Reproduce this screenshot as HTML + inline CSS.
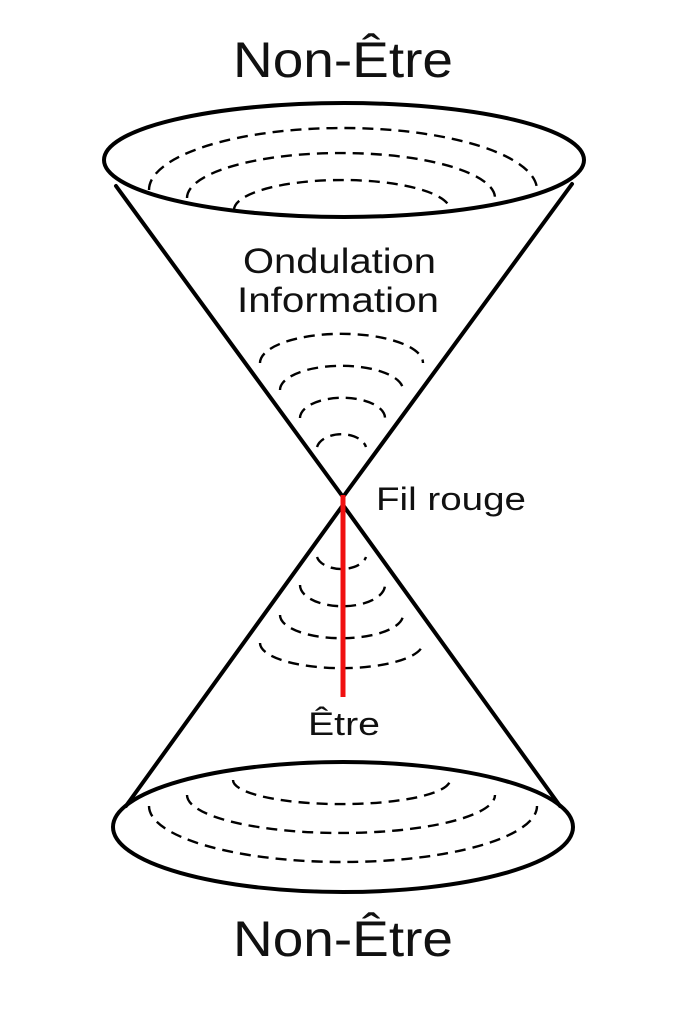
<!DOCTYPE html>
<html><head><meta charset="utf-8"><style>
html,body{margin:0;padding:0;background:#fff;}
svg{display:block;}
text{font-family:"Liberation Sans","DejaVu Sans",sans-serif;fill:#111;}
</style></head><body>
<svg width="683" height="1024" viewBox="0 0 683 1024" xmlns="http://www.w3.org/2000/svg">
<rect width="683" height="1024" fill="#fff"/>
<g fill="none" stroke="#000" stroke-width="4" stroke-linecap="round">
  <ellipse cx="344" cy="160" rx="240" ry="57"/>
  <line x1="116" y1="186" x2="343" y2="497"/>
  <line x1="572" y1="184" x2="343" y2="497"/>
  <line x1="343" y1="505" x2="126" y2="806"/>
  <line x1="343" y1="505" x2="560" y2="806"/>
  <ellipse cx="343" cy="827" rx="230" ry="65"/>
</g>
<g fill="none" stroke="#000" stroke-width="2.4" stroke-dasharray="11 7">
  <path d="M149,190 A194,62 0 0 1 537,190"/>
  <path d="M187,198 A154,45 0 0 1 495,198"/>
  <path d="M234,210 A108,30 0 0 1 450,210"/>
  <path d="M260,363 A81,29 0 0 1 423,363"/>
  <path d="M280,390 A61,24 0 0 1 403,390"/>
  <path d="M300,418 A42,20 0 0 1 385,418"/>
  <path d="M317,447 A25,16 0 0 1 366,447"/>
  <path d="M317,557 A25,15 0 0 0 366,557"/>
  <path d="M300,585 A42,21 0 0 0 385,585"/>
  <path d="M280,615 A61,23 0 0 0 403,615"/>
  <path d="M260,643 A81,25 0 0 0 423,643"/>
  <path d="M233,780 A108,24 0 0 0 450,780"/>
  <path d="M187,795 A154,38 0 0 0 495,795"/>
  <path d="M149,806 A194,56 0 0 0 537,806"/>
</g>
<line x1="343" y1="495" x2="343" y2="697" stroke="#f01010" stroke-width="5"/>
<text x="233" y="77" font-size="50" textLength="220" lengthAdjust="spacingAndGlyphs">Non-Être</text>
<text x="243" y="273" font-size="35" textLength="193" lengthAdjust="spacingAndGlyphs">Ondulation</text>
<text x="237" y="312" font-size="35" textLength="202" lengthAdjust="spacingAndGlyphs">Information</text>
<text x="376" y="510" font-size="32" textLength="150" lengthAdjust="spacingAndGlyphs">Fil rouge</text>
<text x="308" y="735" font-size="32" textLength="72" lengthAdjust="spacingAndGlyphs">Être</text>
<text x="233" y="956" font-size="50" textLength="220" lengthAdjust="spacingAndGlyphs">Non-Être</text>
</svg>
</body></html>
